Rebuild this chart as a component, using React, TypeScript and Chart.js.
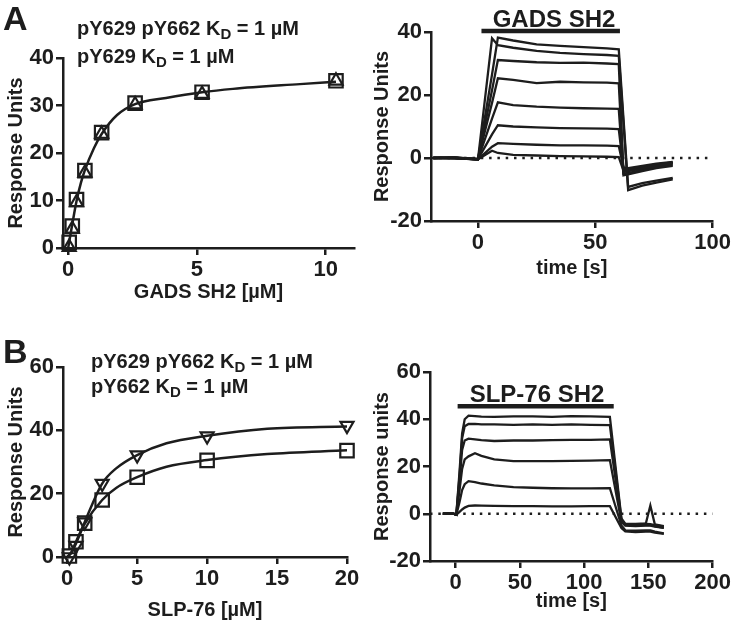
import React, { useEffect, useRef } from 'react';
import { Chart, registerables } from 'chart.js';
Chart.register(...registerables);

const FONT = "'Liberation Sans', Arial, Helvetica, sans-serif";
const INK = '#1d1d1d';

// ---------- Panel A left: GADS SH2 binding ----------
const gadsConc = [0.04, 0.16, 0.325, 0.65, 1.3, 2.6, 5.2, 10.4];
const gadsSquares = [1.2, 4.6, 10.2, 16.3, 24.3, 30.5, 32.8, 35.2];
const gadsTriangles = [0.2, 4.0, 9.6, 15.8, 24.0, 30.2, 32.4, 35.2];
const gadsFitX = [0, 0.16, 0.33, 0.5, 0.65, 1, 1.3, 1.9, 2.6, 3.8, 5.2, 6.4, 9, 10.4];
const gadsFitY = [0, 5, 10, 13.8, 16.4, 21, 24, 28, 30.3, 31.6, 32.8, 33.5, 34.5, 35];
const aLeftXTicks = [0, 5, 10];
const aLeftYTicks = [0, 10, 20, 30, 40];

// ---------- Panel A right: GADS SH2 sensorgrams ----------
const gadsTime = [-19, -10, 0, 6, 8.5, 15, 25, 35, 45, 55, 60, 62, 64, 70, 76, 83];
const gadsCurve1 = [0, 0.2, -0.5, 26.5, 38.2, 37.3, 36.1, 35.6, 35.2, 34.8, 34.5, null, -9.2, -8, -7.2, -6.3];
const gadsCurve2 = [0, 0, -0.5, 38, 35.8, 35, 34, 33.4, 33, 32.7, 32.4, null, -10.2, -8.8, -7.8, -6.8];
const gadsCurve3 = [0.1, -0.1, -0.4, 21.5, 31.1, 30.8, 30.4, 30.2, 30.3, 30, 29.8, -4.5, -4.2, -3.3, -2.4, -1.7];
const gadsCurve4 = [0, 0.2, -0.3, 17.5, 25.3, 24.8, 23.8, 24.2, 24, 23.9, 23.7, -5, -4.8, -3.8, -2.8, -2.1];
const gadsCurve5 = [0, 0, -0.4, 12.5, 17.7, 16.8, 16.3, 16, 15.8, 15.7, 15.6, -5.5, -5.2, -4.2, -3.2, -2.5];
const gadsCurve6 = [0, 0.1, -0.4, 7.5, 10.4, 10, 9.7, 9.5, 9.4, 9.3, 9.2, -3.5, -3.6, -2.8, -2, -1.4];
const gadsCurve7 = [0, 0, -0.4, 3.6, 4.7, 4.5, 4.2, 4, 4, 3.9, 3.8, -3, -3.2, -2.5, -1.8, -1.2];
const gadsCurve8 = [0, 0, -0.4, 2.3, 1.6, 1.0, 0.8, 0.6, 0.5, 0.4, 0.3, -4, -4, -3.2, -2.3, -1.6];
const gadsBarT = [1.5, 60.5];
const gadsBarLevel = 40.3;
const aRightZeroX = [-20, 100];
const aRightXTicks = [0, 50, 100];
const aRightYTicks = [-20, 0, 20, 40];

// ---------- Panel B left: SLP-76 binding ----------
const slpConc = [0.156, 0.625, 1.25, 2.5, 5, 10, 20];
const slpSquares = [0.3, 4.8, 10.7, 18, 25.2, 30.5, 33.6];
const slpTriangles = [0, 3.6, 11, 23.2, 32.2, 38.2, 41.5];
const slpFitSqX = [0, 0.3, 0.625, 1.25, 2.5, 3.5, 5, 7.1, 10, 14.3, 20];
const slpFitSqY = [0, 1.5, 4.8, 10.5, 18, 21.8, 25.2, 28.5, 30.6, 32.5, 33.7];
const slpFitTriX = [0, 0.3, 0.625, 1.25, 2.5, 3.5, 5, 7.1, 10, 14.3, 20];
const slpFitTriY = [0, 1.3, 4.2, 11, 23.2, 28, 32.2, 35.9, 38.3, 40.5, 41.2];
const bLeftXTicks = [0, 5, 10, 15, 20];
const bLeftYTicks = [0, 20, 40, 60];

// ---------- Panel B right: SLP-76 SH2 sensorgrams ----------
const slpTime = [-10, -2, 0.5, 3, 5, 7, 10, 15, 20, 30, 45, 60, 75, 90, 105, 120, 129, 132, 140, 148, 151.5, 155, 162];
const slpCurve1 = [0, 0, -0.4, 18, 34, 40, 41.5, 41.3, 41.1, 41, 41.2, 41.2, 41, 41.3, 41.2, 41, -2, -4.2, -4.3, -4.1, 3.5, -4.5, -5.2];
const slpCurve2 = [0, 0, -0.4, 16, 32, 37, 38, 38, 37.8, 37.8, 37.6, 37.8, 37.6, 37.8, 37.6, 37.5, -2.5, -4.5, -4.6, -4.3, -4.4, -4.8, -5.5];
const slpCurve3 = [0, 0, -0.4, 14, 27, 31, 31.8, 31.5, 31.2, 30.8, 31, 31, 31.2, 31.3, 31.3, 31.5, -3, -4.8, -5, -4.7, -4.8, -5.2, -6];
const slpCurve4 = [0, 0, -0.4, 10, 19, 23, 24.3, 25.6, 24.5, 23, 22.3, 22.3, 22.3, 22.4, 22.5, 22.7, -3.5, -5, -5.2, -5, -5, -5.5, -6];
const slpCurve5 = [0, 0, -0.4, 5, 10, 12.5, 13.8, 13.4, 12.8, 12, 11.3, 11, 10.8, 10.7, 10.7, 10.8, -5, -7, -7.2, -7, -7, -7.6, -8.3];
const slpCurve6 = [0, 0, -0.4, 0.8, 1.8, 2.6, 3.3, 3.5, 3.4, 3.3, 3.2, 3.2, 3.1, 3.1, 3.2, 3.2, -6, -7.5, -7.8, -7.6, -7.6, -8, -8.5];
const slpBarT = [1.5, 123];
const slpBarLevel = 45.5;
const bRightZeroX = [-20, 200];
const bRightXTicks = [0, 50, 100, 150, 200];
const bRightYTicks = [-20, 0, 20, 40, 60];

const zip = (xs: number[], ys: (number | null)[]) => xs.map((x, i) => ({ x, y: ys[i] }));
const flat = (xs: number[], y: number) => xs.map((x) => ({ x, y }));

const lineDs = (data: any[], width = 2, extra: any = {}) => ({
  data,
  showLine: true,
  borderColor: INK,
  borderWidth: width,
  pointRadius: 0,
  fill: false,
  spanGaps: true,
  tension: 0,
  ...extra,
});

const pointDs = (data: any[], style: string, radius: number, rotation = 0) => ({
  data,
  showLine: false,
  clip: false,
  pointStyle: style,
  pointRadius: radius,
  pointRotation: rotation,
  pointBorderWidth: 2.2,
  pointBorderColor: INK,
  pointBackgroundColor: 'rgba(0,0,0,0)',
  borderColor: INK,
});

interface Panel {
  x: number; y: number; w: number; h: number;
  left: number; right: number; top: number; bottom: number; padBottom: number; titlePad: number;
  xMin: number; xMax: number; xTicks: number[]; xTitle: string;
  yMin: number; yMax: number; yTicks: number[]; yTitle: string;
  datasets: any[];
}

const dotted = (xs: number[]) => lineDs(flat(xs, 0), 2.5, { borderDash: [2.5, 5.8] });

const panels: Panel[] = [
  {
    x: 0, y: 0, w: 366, h: 312, left: 63, right: 354, top: 58, bottom: 248, padBottom: 4, titlePad: 4,
    xMin: -0.2, xMax: 11.1, xTicks: aLeftXTicks, xTitle: 'GADS SH2 [µM]',
    yMin: 0, yMax: 40, yTicks: aLeftYTicks, yTitle: 'Response Units',
    datasets: [
      lineDs(zip(gadsFitX, gadsFitY), 2.5, { cubicInterpolationMode: 'monotone' }),
      pointDs(zip(gadsConc, gadsSquares), 'rect', 9.5),
      pointDs(zip(gadsConc, gadsTriangles), 'triangle', 7.5),
    ],
  },
  {
    x: 366, y: 0, w: 367, h: 312, left: 65, right: 348, top: 32, bottom: 221, padBottom: 28, titlePad: 4,
    xMin: -20, xMax: 100, xTicks: aRightXTicks, xTitle: 'time [s]',
    yMin: -20, yMax: 40, yTicks: aRightYTicks, yTitle: 'Response Units',
    datasets: [
      dotted(aRightZeroX),
      ...[gadsCurve1, gadsCurve2, gadsCurve3, gadsCurve4, gadsCurve5, gadsCurve6, gadsCurve7, gadsCurve8].map((c) =>
        lineDs(zip(gadsTime, c), 2.3)),
      lineDs(flat(gadsBarT, gadsBarLevel), 4.5, { clip: false }),
    ],
  },
  {
    x: 0, y: 312, w: 366, h: 312, left: 63, right: 347, top: 55, bottom: 245, padBottom: 0, titlePad: 2,
    xMin: -0.3, xMax: 20, xTicks: bLeftXTicks, xTitle: 'SLP-76 [µM]',
    yMin: 0, yMax: 60, yTicks: bLeftYTicks, yTitle: 'Response Units',
    datasets: [
      lineDs(zip(slpFitSqX, slpFitSqY), 2.5, { cubicInterpolationMode: 'monotone' }),
      lineDs(zip(slpFitTriX, slpFitTriY), 2.5, { cubicInterpolationMode: 'monotone' }),
      pointDs(zip(slpConc, slpSquares), 'rect', 9.5),
      pointDs(zip(slpConc, slpTriangles), 'triangle', 7.5, 180),
    ],
  },
  {
    x: 366, y: 312, w: 367, h: 312, left: 64, right: 348, top: 60, bottom: 249, padBottom: 7, titlePad: 4,
    xMin: -20, xMax: 200, xTicks: bRightXTicks, xTitle: 'time [s]',
    yMin: -20, yMax: 60, yTicks: bRightYTicks, yTitle: 'Response units',
    datasets: [
      dotted(bRightZeroX),
      ...[slpCurve1, slpCurve2, slpCurve3, slpCurve4, slpCurve5, slpCurve6].map((c) => lineDs(zip(slpTime, c), 2.3)),
      lineDs(flat(slpBarT, slpBarLevel), 4.5, { clip: false }),
    ],
  },
];

function axisOpts(ticksArr: number[]) {
  return {
    type: 'linear' as const,
    grid: { drawOnChartArea: false, drawTicks: true, tickLength: 7, color: INK, lineWidth: 2.5 },
    border: { display: true, color: INK, width: 2.5 },
    ticks: {
      font: { family: FONT, size: 22, weight: 'bold' as const },
      color: INK,
      padding: 2,
      autoSkip: false,
      maxRotation: 0,
      callback: (v: any) => String(v),
    },
    afterBuildTicks: (s: any) => {
      s.ticks = ticksArr.map((v) => ({ value: v }));
    },
  };
}

function buildConfig(p: Panel): any {
  const titleFont = { family: FONT, size: 20, weight: 'bold' as const };
  return {
    type: 'scatter',
    data: { datasets: p.datasets },
    options: {
      responsive: false,
      maintainAspectRatio: false,
      animation: false,
      events: [],
      layout: { padding: { left: 0, top: p.top, right: p.w - p.right, bottom: p.padBottom } },
      plugins: { legend: { display: false }, tooltip: { enabled: false } },
      scales: {
        x: {
          ...axisOpts(p.xTicks),
          min: p.xMin,
          max: p.xMax,
          title: { display: true, text: p.xTitle, font: titleFont, color: INK, padding: { top: 0, bottom: p.titlePad } },
          afterFit: (s: any) => {
            s.height = p.h - p.padBottom - p.bottom;
          },
        },
        y: {
          ...axisOpts(p.yTicks),
          min: p.yMin,
          max: p.yMax,
          title: { display: true, text: p.yTitle, font: titleFont, color: INK, padding: { top: 4, bottom: 0 } },
          afterFit: (s: any) => {
            s.width = p.left;
          },
        },
      },
    },
  };
}

const textBase: React.CSSProperties = {
  position: 'absolute',
  fontFamily: FONT,
  fontWeight: 'bold',
  color: INK,
  whiteSpace: 'nowrap',
};

const Sub = ({ children }: { children: React.ReactNode }) => (
  <span style={{ fontSize: 15, position: 'relative', top: 4, lineHeight: 0 }}>{children}</span>
);

export default function App() {
  const refs = useRef<(HTMLCanvasElement | null)[]>([]);

  useEffect(() => {
    const charts = panels.map((p, i) => new Chart(refs.current[i] as HTMLCanvasElement, buildConfig(p)));
    return () => charts.forEach((c) => c.destroy());
  }, []);

  const ann: React.CSSProperties = { ...textBase, fontSize: 20, lineHeight: '20px' };
  const big: React.CSSProperties = { ...textBase, fontSize: 34, lineHeight: '34px' };
  const barLbl: React.CSSProperties = { ...textBase, fontSize: 24, lineHeight: '24px', width: 200, textAlign: 'center' };

  return (
    <div style={{ position: 'fixed', left: 0, top: 0, width: 733, height: 624, background: '#fff', overflow: 'hidden' }}>
      {panels.map((p, i) => (
        <canvas
          key={i}
          ref={(el) => {
            refs.current[i] = el;
          }}
          width={p.w}
          height={p.h}
          style={{ position: 'absolute', left: p.x, top: p.y, width: p.w, height: p.h }}
        />
      ))}
      <div style={{ ...big, left: 3, top: 1 }}>A</div>
      <div style={{ ...big, left: 3, top: 334 }}>B</div>
      <div style={{ ...ann, left: 77, top: 18 }}>
        pY629 pY662 K<Sub>D</Sub> = 1 µM
      </div>
      <div style={{ ...ann, left: 77, top: 46 }}>
        pY629 K<Sub>D</Sub> = 1 µM
      </div>
      <div style={{ ...ann, left: 91, top: 351 }}>
        pY629 pY662 K<Sub>D</Sub> = 1 µM
      </div>
      <div style={{ ...ann, left: 91, top: 376 }}>
        pY662 K<Sub>D</Sub> = 1 µM
      </div>
      <div style={{ ...barLbl, left: 554 - 100, top: 7 }}>GADS SH2</div>
      <div style={{ ...barLbl, left: 537 - 100, top: 382 }}>SLP-76 SH2</div>
    </div>
  );
}
